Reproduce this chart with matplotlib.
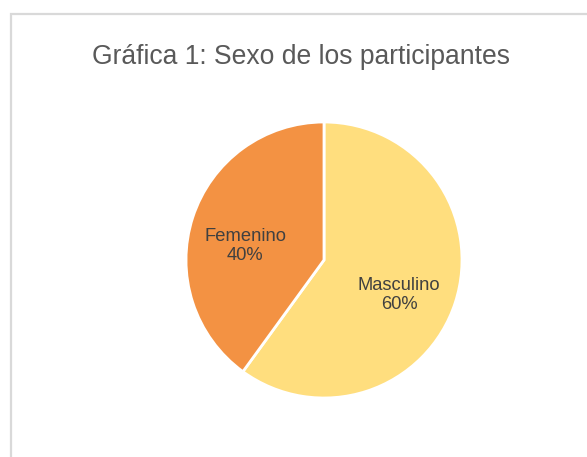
import matplotlib.pyplot as plt
from matplotlib.patches import Rectangle

# data
labels = ['Masculino', 'Femenino']
values = [60, 40]
colors = ['#FFDE7E', '#F39243']

W, H = 587, 457
fig = plt.figure(figsize=(W / 100, H / 100), dpi=100)
plt.rcParams['font.family'] = ['Liberation Sans', 'DejaVu Sans']


def fx(px):
    return px / W


def fy(py):
    return 1 - py / H


# chart frame (runs off the right and bottom edges)
fig.patches.append(Rectangle((fx(11), fy(470)), fx(620), 456 / H,
                             transform=fig.transFigure, fill=False,
                             edgecolor='#D9D9D9', linewidth=1.6))

fig.text(fx(301), fy(57), 'Gráfica 1: Sexo de los participantes',
         ha='center', va='center', fontsize=19.1, color='#595959')

cx, cy, r = 324, 260, 138
ax = fig.add_axes([fx(cx - r), fy(cy + r), 2 * r / W, 2 * r / H])
ax.pie(values, colors=colors, startangle=90, counterclock=False,
       wedgeprops=dict(edgecolor='white', linewidth=2))
ax.set_xlim(-1, 1)
ax.set_ylim(-1, 1)
ax.axis('off')

pos = {'Masculino': (399, 295), 'Femenino': (245, 246)}
for lab, v in zip(labels, values):
    x, y = pos[lab]
    fig.text(fx(x), fy(y), f'{lab}\n{v}%', ha='center', va='center',
             fontsize=13.2, color='#404040', linespacing=1.2)

fig.savefig('out.png', dpi=100)
